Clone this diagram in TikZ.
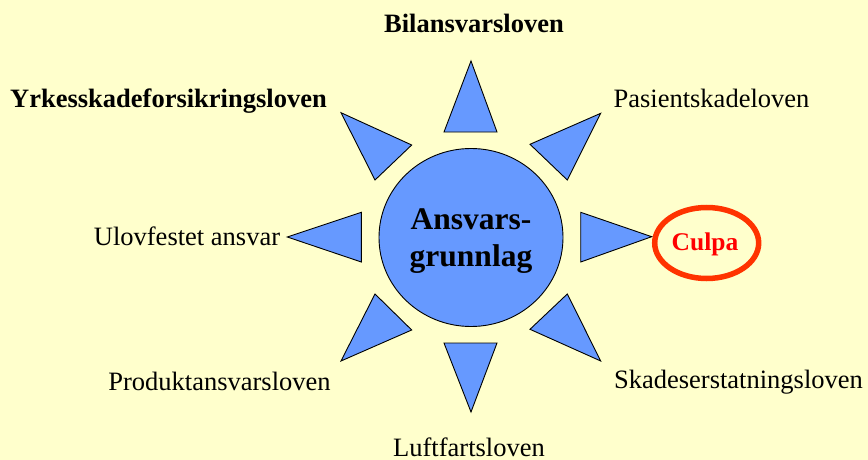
\documentclass[tikz,border=0pt]{standalone}
\usepackage{fontspec}
\setmainfont{Liberation Serif}
\usetikzlibrary{shapes.geometric}
\definecolor{bgyellow}{HTML}{FFFFCC}
\definecolor{rayblue}{HTML}{6699FF}
\definecolor{culpaline}{HTML}{FF3300}
\definecolor{culpatext}{HTML}{FF0000}
\begin{document}
\begin{tikzpicture}[x=1pt,y=-1pt,
  ray/.style={draw=black, line width=0.9pt, fill=rayblue, line join=miter},
  lab/.style={anchor=base, font=\fontsize{26.5}{32}\selectfont, inner sep=0pt},
  blab/.style={lab, font=\fontsize{26.5}{32}\selectfont\bfseries}]
\fill[bgyellow] (0,0) rectangle (868,460);
\useasboundingbox (0,0) rectangle (868,460);

% central sun
\node[ellipse, draw=black, line width=0.9pt, fill=rayblue, minimum width=184pt, minimum height=178pt, inner sep=0pt] (core) at (471,237.5) {};
\node[font=\fontsize{31.5}{37.5}\selectfont\bfseries, align=center, inner sep=0pt] (coretext) at (471,241) {Ansvars-\\grunnlag};

% rays
\draw[ray] (471,61) -- (497,132) -- (444,132) -- cycle;          % top
\draw[ray] (444,343) -- (497,343) -- (471,412) -- cycle;         % bottom
\draw[ray] (287.3,237) -- (361.3,212.3) -- (361.3,262) -- cycle; % left
\draw[ray] (651.7,236.7) -- (580.7,212.3) -- (580.7,262) -- cycle; % right
\draw[ray] (341,112.7) -- (411.7,145) -- (375,180) -- cycle;     % upper left
\draw[ray] (600.7,113.3) -- (530,144.3) -- (567.3,180) -- cycle; % upper right
\draw[ray] (375,294) -- (411.7,330) -- (341,361) -- cycle;       % lower left
\draw[ray] (567.3,294) -- (530,329.3) -- (600.7,361) -- cycle;   % lower right

% Culpa
\node[ellipse, draw=culpaline, line width=5.5pt, minimum width=104pt, minimum height=71pt, inner sep=0pt] (culpa) at (706.7,243) {};
\node[blab, text=culpatext, font=\fontsize{25.5}{30}\selectfont\bfseries] (culpatxt) at (705,250) {Culpa};

% labels
\node[blab] (bil) at (474,33) {Bilansvarsloven};
\node[blab] (yrk) at (168.5,107) {Yrkesskadeforsikringsloven};
\node[lab] (pas) at (711.5,107) {Pasientskadeloven};
\node[lab] (ulo) at (187,245) {Ulovfestet ansvar};
\node[lab] (pro) at (219.5,390) {Produktansvarsloven};
\node[lab] (ska) at (738.5,388) {Skadeserstatningsloven};
\node[lab] (luf) at (469,456) {Luftfartsloven};
\end{tikzpicture}
\end{document}
